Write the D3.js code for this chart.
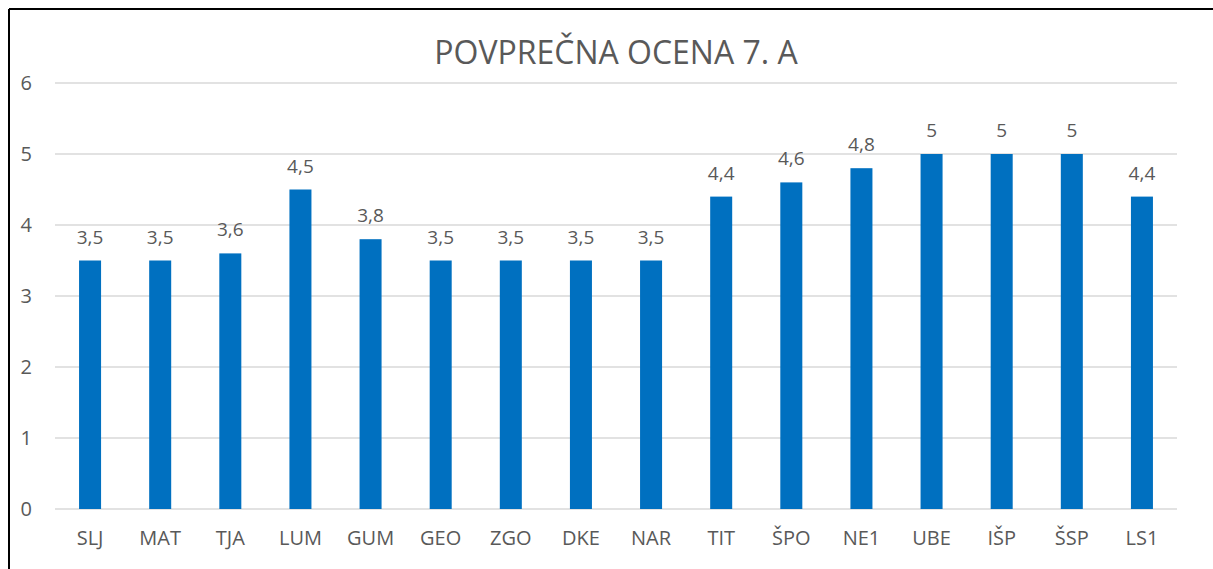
<!DOCTYPE html>
<html>
<head>
<meta charset="utf-8">
<script src="https://cdn.jsdelivr.net/npm/d3@7"></script>
<style>
  html, body { margin: 0; padding: 0; background: #fff; }
  svg { display: block; font-family: "Open Sans", "Noto Sans", sans-serif; }
</style>
</head>
<body>
<svg id="chart" width="1213" height="569"></svg>
<script>
  // Subjects and their average grades.
  const SUBJECTS = ['SLJ', 'MAT', 'TJA', 'LUM', 'GUM', 'GEO', 'ZGO', 'DKE', 'NAR', 'TIT', 'ŠPO', 'NE1', 'UBE', 'IŠP', 'ŠSP', 'LS1'];
  const AVERAGES = [3.5, 3.5, 3.6, 4.5, 3.8, 3.5, 3.5, 3.5, 3.5, 4.4, 4.6, 4.8, 5, 5, 5, 4.4];
  const Y_TICKS = [0, 1, 2, 3, 4, 5, 6];
  const TITLE = 'POVPREČNA OCENA 7. A';

  (function () {
    const svg = d3.select('#chart');
    const plotLeft = 55, plotRight = 1177, plotTop = 83, plotBottom = 509;
    const textColor = '#595959';

    const x = d3.scaleBand().domain(SUBJECTS).range([plotLeft, plotRight]).paddingInner(0.686).paddingOuter(0.343);
    const y = d3.scaleLinear().domain([0, 6]).range([plotBottom, plotTop]);

    // Frame edges (left and top only are visible)
    svg.append('line').attr('x1', 9).attr('y1', 9).attr('x2', 1213).attr('y2', 9)
      .attr('stroke', '#000').attr('stroke-width', 2);
    svg.append('line').attr('x1', 9).attr('y1', 9).attr('x2', 9).attr('y2', 569)
      .attr('stroke', '#000').attr('stroke-width', 2);

    svg.append('text')
      .attr('x', 616).attr('y', 64)
      .attr('text-anchor', 'middle')
      .attr('font-size', 32)
      .attr('fill', textColor)
      .text(TITLE);

    // Gridlines
    svg.append('g').selectAll('line').data(Y_TICKS).join('line')
      .attr('x1', plotLeft).attr('x2', plotRight)
      .attr('y1', d => y(d)).attr('y2', d => y(d))
      .attr('stroke', '#d9d9d9').attr('stroke-width', 1.3);

    // Y axis labels
    const yAxis = svg.append('g')
      .attr('transform', `translate(${plotLeft - 23},0)`)
      .call(d3.axisLeft(y).tickValues(Y_TICKS).tickSize(0).tickPadding(0).tickFormat(d3.format('d')))
      .attr('font-family', null).attr('font-size', null);
    yAxis.select('.domain').remove();
    yAxis.selectAll('text').attr('font-size', 20).attr('fill', textColor);

    // Bars
    svg.append('g').selectAll('rect').data(SUBJECTS).join('rect')
      .attr('x', d => x(d))
      .attr('width', x.bandwidth())
      .attr('y', (d, i) => y(AVERAGES[i]))
      .attr('height', (d, i) => plotBottom - y(AVERAGES[i]))
      .attr('fill', '#0070c0');

    // Value labels
    const fmt = v => String(v).replace('.', ',');
    svg.append('g').selectAll('text').data(SUBJECTS).join('text')
      .attr('x', d => x(d) + x.bandwidth() / 2)
      .attr('y', (d, i) => y(AVERAGES[i]) - 17)
      .attr('text-anchor', 'middle')
      .attr('font-size', 19)
      .attr('fill', textColor)
      .text((d, i) => fmt(AVERAGES[i]));

    // Category labels
    const xAxis = svg.append('g')
      .attr('transform', `translate(0,${plotBottom + 22})`)
      .call(d3.axisBottom(x).tickSize(0).tickPadding(0))
      .attr('font-family', null).attr('font-size', null);
    xAxis.select('.domain').remove();
    xAxis.selectAll('text').attr('font-size', 20).attr('fill', textColor);
  })();
</script>
</body>
</html>
